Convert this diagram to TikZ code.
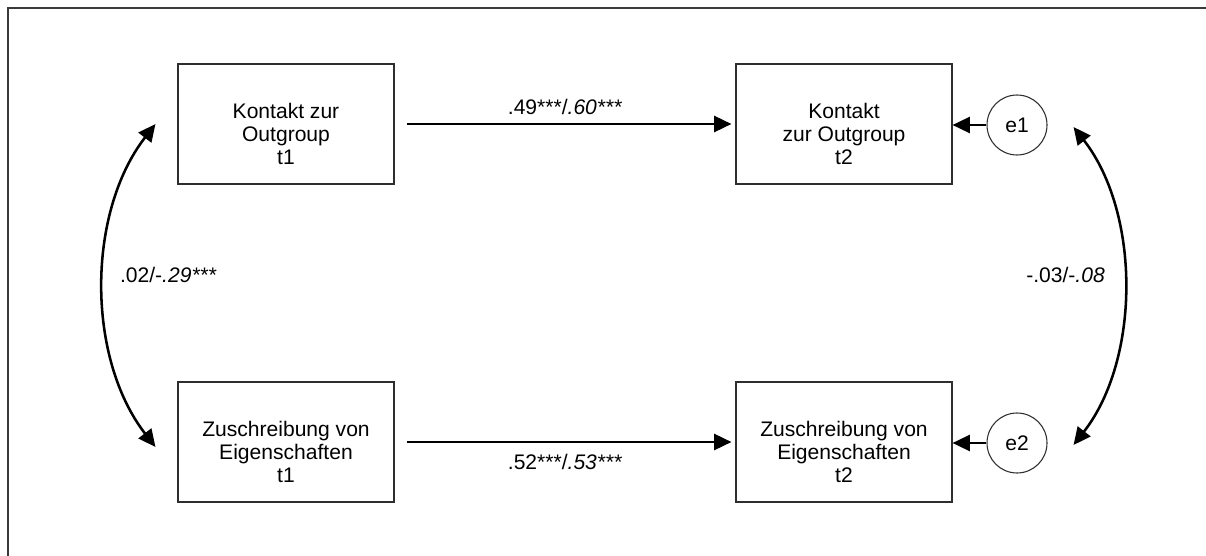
\documentclass[tikz,border=0pt]{standalone}
\usepackage{fontspec}
\setmainfont{Liberation Sans}
\usetikzlibrary{arrows.meta,positioning}
\definecolor{framegray}{HTML}{3A3A3A}
\definecolor{boxgray}{HTML}{2E2E2E}
\newcommand{\diafont}{\fontsize{15.8}{17.3}\selectfont}
% text block sits a little below the box centre
\newcommand{\boxlines}[1]{\raisebox{0pt}[\dimexpr\height+19pt\relax]{\begin{tabular}{@{}c@{}}#1\end{tabular}}}
\tikzset{
  var/.style={draw=boxgray, line width=0.8pt, minimum width=162pt, minimum height=90pt,
    inner sep=0pt, align=center, font=\diafont},
  resid/.style={draw=boxgray, circle, line width=0.8pt, minimum size=45pt,
    inner sep=0pt, font=\diafont},
  regarrow/.style={-{Triangle[length=13pt,width=12pt]}, line width=1.9pt},
  corr/.style={{Triangle[length=13pt,width=12pt]}-{Triangle[length=13pt,width=12pt]},
    line width=1.9pt},
  coef/.style={font=\diafont},
}
\begin{document}
\begin{tikzpicture}[x=0.75pt,y=-0.75pt]
  \useasboundingbox (0,0) rectangle (1206,556);
  % frame
  \draw[framegray, line width=1pt] (8,556) -- (8,8) -- (1206,8);
  % measured variables
  \node[var] (kt1) at (286,124) {\boxlines{Kontakt zur\\Outgroup\\t1}};
  \node[var] (kt2) at (844,124) {\boxlines{Kontakt\\zur Outgroup\\t2}};
  \node[var] (zt1) at (286,442) {\boxlines{Zuschreibung von\\Eigenschaften\\t1}};
  \node[var] (zt2) at (844,442) {\boxlines{Zuschreibung von\\Eigenschaften\\t2}};
  % residuals
  \node[resid] (e1) at (1017,125) {e1};
  \node[resid] (e2) at (1017,443) {e2};
  % stability paths
  \draw[regarrow, shorten <=9pt, shorten >=3pt] (kt1.east) --
    node[coef, midway, above=3pt] {.49***/\textit{.60***}} (kt2.west);
  \draw[regarrow, shorten <=9pt, shorten >=3pt] (zt1.east) --
    node[coef, midway, below=5pt] {.52***/\textit{.53***}} (zt2.west);
  \draw[regarrow] (e1.west) -- (e1.west -| kt2.east);
  \draw[regarrow] (e2.west) -- (e2.west -| zt2.east);
  % correlations
  \coordinate (ltop) at ([xshift=-16.5pt]kt1.west);
  \coordinate (lbot) at ([xshift=-16.5pt,yshift=-3.75pt]zt1.west);
  \coordinate (rtop) at ([xshift=19.5pt,yshift=-1.5pt]e1.east);
  \coordinate (rbot) at ([xshift=19.5pt,yshift=-1.5pt]e2.east);
  \draw[corr] (ltop) .. controls +(-69,89) and +(-69,-89) ..
    node[coef, midway, right=8pt, yshift=8pt] {.02/-\textit{.29***}} (lbot);
  \draw[corr] (rtop) .. controls +(67,86) and +(67,-86) ..
    node[coef, midway, left=10pt, yshift=8pt] {-.03/-\textit{.08}} (rbot);
\end{tikzpicture}
\end{document}
